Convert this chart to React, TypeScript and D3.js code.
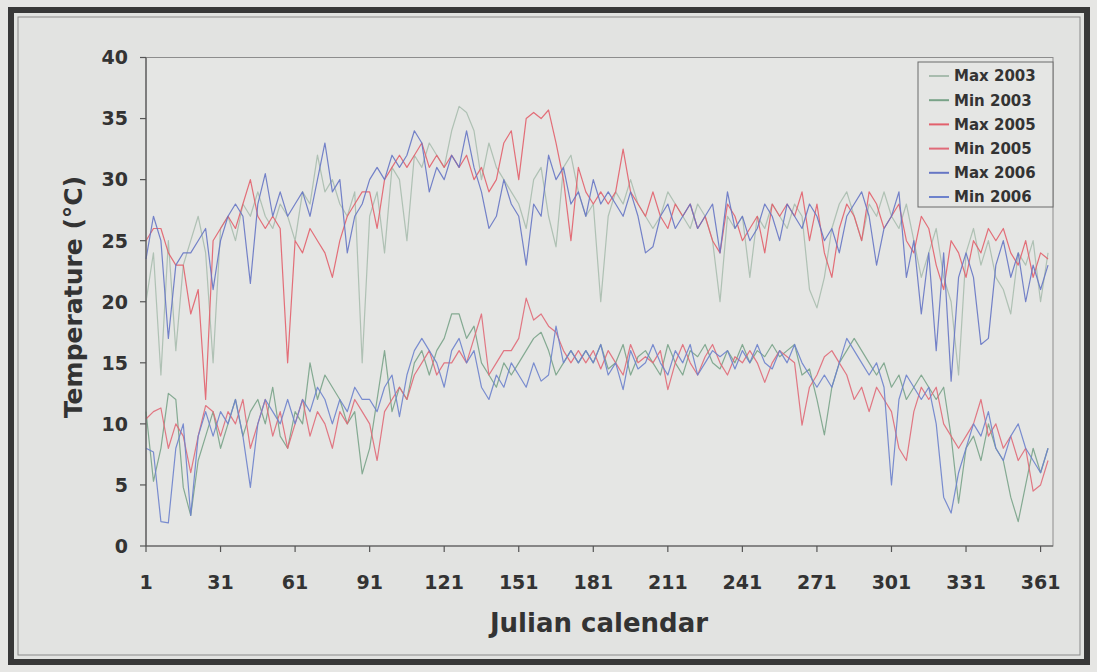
import React from "react";
import * as d3 from "d3";

// Sampled every 3 days: day 1, 4, 7, ..., 364
const days: number[] = d3.range(1, 366, 3);

const max2003 = [
  20, 24, 14, 25, 16, 23, 25, 27, 24, 15,
  26, 27, 25, 28, 27, 29, 27, 26, 28, 27,
  25, 29, 28, 32, 29, 30, 28, 27, 29, 15,
  27, 29, 24, 31, 30, 25, 32, 31, 33, 32,
  31, 34, 36, 35.5, 34, 30, 33, 31, 30, 29,
  28, 26, 30, 31, 27, 24.5, 31, 32, 29, 27,
  28, 20, 27, 29, 28, 30, 28, 27, 26, 27,
  29, 28, 27, 26, 28, 27, 25, 20, 27, 26,
  27, 22, 27, 26, 28, 27, 26, 28, 27, 21,
  19.5, 22, 26, 28, 29, 27, 25, 28, 27, 29,
  27, 26, 28, 25, 22, 24, 26, 22, 20, 14,
  24, 26, 23, 25, 22, 21, 19, 24, 23, 25,
  20, 24,
];

const min2003 = [
  11, 5.3, 8, 12.5, 12, 4.8, 2.5, 7, 9, 11,
  8, 10, 12, 9, 11, 12, 10, 13, 9, 8,
  11, 10, 15, 12, 14, 13, 12, 10, 11, 5.9,
  8, 12, 16, 11, 13, 12, 15, 16, 14, 16,
  17, 19, 19, 17, 18, 15, 14, 13, 15, 14,
  15, 16, 17, 17.5, 16, 14, 15, 16, 15, 16,
  15, 16.5, 14.5, 15, 16.5, 14, 15.5, 16, 15, 14,
  16.5, 15, 14, 16, 15.5, 16.5, 15, 14.5, 16, 15,
  16.5, 15, 16, 15.5, 16.5, 15.5, 16, 16.5, 14, 14.5,
  12, 9.1, 13, 15, 16, 17, 16, 15, 14, 15,
  13, 14, 12, 13, 14, 13, 12, 13, 9, 3.5,
  8, 9, 7, 10, 8, 7, 4, 2, 5, 8,
  6, 8,
];

const max2005 = [
  25, 26, 26, 24, 23, 23, 19, 21, 12, 25,
  26, 27, 26, 28, 30, 27, 26, 27, 26, 15,
  25, 24, 26, 25, 24, 22, 25, 27, 28, 29,
  29, 26, 30, 31, 32, 31, 32, 33, 31, 32,
  31, 32, 31, 32, 30, 31, 29, 30, 33, 34,
  30, 35, 35.5, 35, 35.7, 33, 30, 25, 31, 29,
  28, 29, 28, 29, 32.5, 29, 28, 27, 29, 27,
  26, 28, 27, 28, 26, 27, 25, 24, 28, 27,
  25, 26, 27, 24, 28, 27, 28, 27, 29, 25,
  28, 24, 22, 26, 28, 27, 25, 29, 28, 26,
  27, 28, 25, 24, 27, 26, 23, 21, 25, 24,
  22, 25, 24, 26, 25, 26, 24, 23, 25, 22,
  24, 23.5,
];

const min2005 = [
  10.4, 11, 11.3, 8, 10, 9, 6, 9, 11.5, 11,
  9, 11, 10, 12, 8, 10, 12, 9, 11, 8,
  10, 12, 9, 11, 10, 8, 11, 10, 12, 11,
  10, 7, 11, 12, 13, 12, 14, 15, 16, 14,
  15, 15, 16, 15, 17, 19, 14, 15, 16, 16,
  17, 20.3, 18.5, 19, 18, 17.5, 16, 15, 16, 15,
  16, 14.5, 16, 15, 14, 16.5, 15, 15.5, 15, 16,
  12.8, 15, 16.5, 15, 14, 15.5, 16.5, 15, 14, 15.5,
  15, 16, 15, 13.4, 15, 16, 15.5, 15, 9.9, 13,
  14, 15.5, 16, 15, 14, 12, 13, 11, 13, 12,
  11, 8, 7, 11, 13, 12, 13, 10, 9, 8,
  9, 10, 12, 9, 10, 8, 9, 7, 8, 4.5,
  5, 7,
];

const max2006 = [
  23.5, 27, 25, 17, 23, 24, 24, 25, 26, 21,
  25, 27, 28, 27, 21.5, 28, 30.5, 27, 29, 27,
  28, 29, 27, 30, 33, 29, 30, 24, 27, 28,
  30, 31, 30, 32, 31, 32, 34, 33, 29, 31,
  30, 32, 31, 34, 31, 29, 26, 27, 30, 28,
  27, 23, 28, 27, 32, 30, 31, 28, 29, 27,
  30, 28, 29, 28, 27, 29, 27, 24, 24.5, 27,
  28, 26, 27, 28, 26, 27, 28, 24, 29, 26,
  27, 25, 26, 28, 27, 25, 28, 27, 26, 28,
  27, 25, 26, 24, 27, 28, 29, 27, 23, 26,
  27, 29, 22, 25, 19, 24, 16, 24, 13.5, 22,
  24, 22, 16.5, 17, 23, 25, 22, 24, 20, 23,
  21, 23,
];

const min2006 = [
  8, 7.7, 2, 1.9, 8, 10, 2.5, 9, 11, 9,
  11, 10, 12, 9, 4.8, 10, 12, 11, 10, 12,
  10, 12, 11, 13, 12, 10, 12, 11, 13, 12,
  12, 11, 13, 14, 10.6, 14, 16, 17, 16, 15,
  13, 16, 17, 15, 16, 13, 12, 14, 13, 15,
  14, 13, 15, 13.5, 14, 18, 15, 16, 15, 16,
  15, 16.5, 14, 15, 12.8, 16, 14.5, 15, 16.5, 15,
  14, 16, 15, 16.5, 14, 15, 16, 15.5, 16, 14.5,
  16, 15, 16.5, 15, 14.5, 16, 15, 16.5, 15, 14,
  13, 14, 13, 15, 17, 16, 15, 14, 15, 13,
  5, 12, 14, 13, 12, 13, 10, 4, 2.7, 6,
  8, 10, 9, 11, 8, 7, 9, 10, 8, 7,
  6, 8,
];

const seriesNames = ["Max 2003", "Min 2003", "Max 2005", "Min 2005", "Max 2006", "Min 2006"];
const seriesValues = [max2003, min2003, max2005, min2005, max2006, min2006];
const seriesColors = ["#a8bcae", "#79a388", "#e2606c", "#e06a78", "#6676c4", "#6d82cc"];
const xTicks = [1, 31, 61, 91, 121, 151, 181, 211, 241, 271, 301, 331, 361];
const yTicks = [0, 5, 10, 15, 20, 25, 30, 35, 40];

const W = 1097;
const H = 672;
const plot = { left: 146, right: 1053, top: 57.5, bottom: 546 };
const FONT = "'DejaVu Sans', Verdana, sans-serif";

export default function App() {
  const x = d3.scaleLinear().domain([1, 366]).range([plot.left, plot.right]);
  const y = d3.scaleLinear().domain([0, 40]).range([plot.bottom, plot.top]);
  const line = d3
    .line<[number, number]>()
    .x((d) => x(d[0]))
    .y((d) => y(d[1]))
    .curve(d3.curveLinear);

  const legendX = 918;
  const legendY = 62;

  return (
    <svg
      width={W}
      height={H}
      style={{ position: "absolute", left: 0, top: 0, background: "#e3e4e2" }}
      fontFamily={FONT}
    >
      <rect x={0} y={0} width={W} height={H} fill="#e6e6e4" />
      {/* outer frame */}
      <rect x={11} y={10} width={1076} height={652} fill="#e2e3e1" stroke="#383838" strokeWidth={6} />
      <rect x={18} y={17} width={1062} height={638} fill="none" stroke="#8a8a8a" strokeWidth={1} />
      {/* plot area */}
      <rect
        x={plot.left}
        y={plot.top}
        width={plot.right - plot.left}
        height={plot.bottom - plot.top}
        fill="#e5e6e4"
        stroke="#8d8d8d"
        strokeWidth={1}
      />
      {/* series */}
      {seriesValues.map((vals, i) => (
        <path
          key={seriesNames[i]}
          d={line(days.map((d, j) => [d, vals[j]] as [number, number])) || ""}
          fill="none"
          stroke={seriesColors[i]}
          strokeWidth={1.2}
          strokeOpacity={0.9}
          strokeLinejoin="round"
        />
      ))}
      {/* axes */}
      <line x1={plot.left} x2={plot.left} y1={plot.top} y2={plot.bottom} stroke="#555" strokeWidth={1.2} />
      <line x1={plot.left} x2={plot.right} y1={plot.bottom} y2={plot.bottom} stroke="#555" strokeWidth={1.2} />
      {yTicks.map((t) => (
        <g key={"y" + t}>
          <line x1={plot.left - 6} x2={plot.left} y1={y(t)} y2={y(t)} stroke="#555" strokeWidth={1.2} />
          <text
            x={128}
            y={y(t)}
            dy="0.36em"
            textAnchor="end"
            fontSize={19}
            fontWeight="bold"
            fill="#333"
          >
            {t}
          </text>
        </g>
      ))}
      {xTicks.map((t) => (
        <g key={"x" + t}>
          <line x1={x(t)} x2={x(t)} y1={plot.bottom} y2={plot.bottom + 6} stroke="#555" strokeWidth={1.2} />
          <text x={x(t)} y={589} textAnchor="middle" fontSize={19} fontWeight="bold" fill="#333">
            {t}
          </text>
        </g>
      ))}
      <text x={599} y={632} textAnchor="middle" fontSize={26} fontWeight="bold" fill="#333">
        Julian calendar
      </text>
      <text
        transform={`translate(82, 297) rotate(-90)`}
        textAnchor="middle"
        fontSize={25}
        fontWeight="bold"
        fill="#333"
      >
        Temperature (°C)
      </text>
      {/* legend */}
      <rect x={legendX} y={legendY} width={1053 - legendX} height={145} fill="#e5e6e4" stroke="#6a6a6a" strokeWidth={1} />
      {seriesNames.map((name, i) => {
        const cy = legendY + 14 + i * 24.2;
        return (
          <g key={"lg" + name}>
            <line x1={929} x2={949} y1={cy} y2={cy} stroke={seriesColors[i]} strokeWidth={2} />
            <text x={954} y={cy} dy="0.36em" fontSize={15} fontWeight="bold" fill="#333">
              {name}
            </text>
          </g>
        );
      })}
    </svg>
  );
}
